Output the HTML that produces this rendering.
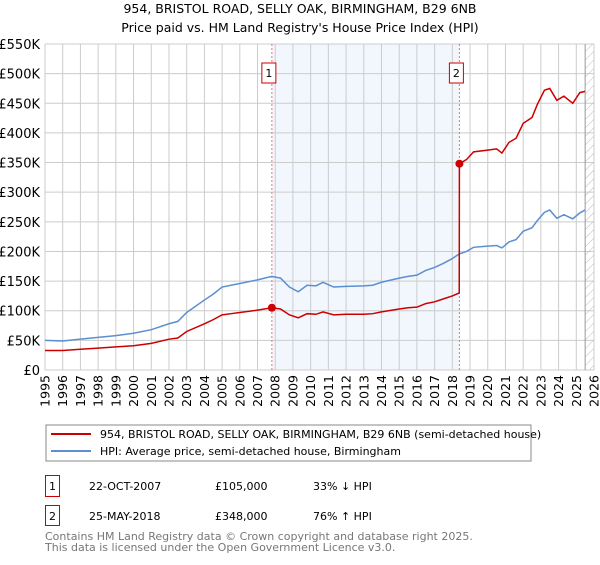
<!DOCTYPE html>
<html><head><meta charset="utf-8"><style>
body{margin:0;background:#fff;font-family:"Liberation Sans","DejaVu Sans",sans-serif;}
svg text{font-family:"DejaVu Sans","Liberation Sans",sans-serif;}
</style></head><body>
<svg id="c" width="600" height="560" viewBox="0 0 600 560" xmlns="http://www.w3.org/2000/svg">
<defs><pattern id="hatch" width="6" height="6" patternUnits="userSpaceOnUse" patternTransform="rotate(45)"><line x1="0" y1="0" x2="0" y2="6" stroke="#bbb" stroke-width="1"/></pattern></defs>
<text x="300" y="13" text-anchor="middle" font-size="12.5" fill="#000">954, BRISTOL ROAD, SELLY OAK, BIRMINGHAM, B29 6NB</text>
<text x="300" y="32" text-anchor="middle" font-size="12.5" fill="#000">Price paid vs. HM Land Registry's House Price Index (HPI)</text>
<g id="grid"></g><g id="marks"></g><g id="axes"></g>
<g>
<rect x="46" y="425" width="485" height="36" fill="#fff" stroke="#888" stroke-width="1"/>
<line x1="51" y1="434" x2="91" y2="434" stroke="#cc0000" stroke-width="2"/>
<text x="100" y="438" font-size="11">954, BRISTOL ROAD, SELLY OAK, BIRMINGHAM, B29 6NB (semi-detached house)</text>
<line x1="51" y1="451" x2="91" y2="451" stroke="#5b8fd0" stroke-width="2"/>
<text x="100" y="455" font-size="11">HPI: Average price, semi-detached house, Birmingham</text>
</g>
<g font-size="11">
<rect x="45.5" y="475.5" width="14" height="21" fill="#fff" stroke="#cc0000"/>
<text x="52.5" y="490" text-anchor="middle">1</text>
<text x="89" y="490">22-OCT-2007</text>
<text x="215" y="490">£105,000</text>
<text x="313" y="490">33% ↓ HPI</text>
<rect x="45.5" y="505.5" width="14" height="20" fill="#fff" stroke="#cc0000"/>
<text x="52.5" y="520" text-anchor="middle">2</text>
<text x="89" y="520">25-MAY-2018</text>
<text x="215" y="520">£348,000</text>
<text x="313" y="520">76% ↑ HPI</text>
</g>
<text x="45" y="540" font-size="11" fill="#777">Contains HM Land Registry data © Crown copyright and database right 2025.</text>
<text x="45" y="551" font-size="11" fill="#777">This data is licensed under the Open Government Licence v3.0.</text>
</svg>
<script>
const years=[1995,1996,1997,1998,1999,2000,2001,2002,2002.5,2003,2004,2004.5,2005,2005.5,2006,2007,2007.8,2008.3,2008.8,2009.3,2009.8,2010.3,2010.7,2011.3,2012,2013,2013.5,2014,2015,2015.5,2016,2016.5,2017,2017.5,2018,2018.39,2018.4,2018.8,2019.2,2020,2020.5,2020.8,2021.2,2021.6,2022,2022.5,2022.8,2023.2,2023.5,2023.9,2024.3,2024.8,2025.2,2025.5];
const hpi=[50,49,52,55,58,62,68,78,82,97,118,128,140,143,146,152,158,155,140,132,143,142,148,140,141,142,143,148,155,158,160,168,173,180,188,196,196,200,207,209,210,206,216,220,234,240,252,266,270,256,262,255,265,270];
const price=[33,33,35,37,39,41,45,52,54,65,78,85,93,95,97,101,105,103,93,88,95,94,98,93,94,94,95,98,103,105,106,112,115,120,125,130,348,355,368,371,373,366,384,391,416,426,448,472,475,455,462,450,468,470];
const yTicks=[0,50,100,150,200,250,300,350,400,450,500,550];
const yTickLabels=["£0","£50K","£100K","£150K","£200K","£250K","£300K","£350K","£400K","£450K","£500K","£550K"];
const xTicks=[1995,1996,1997,1998,1999,2000,2001,2002,2003,2004,2005,2006,2007,2008,2009,2010,2011,2012,2013,2014,2015,2016,2017,2018,2019,2020,2021,2022,2023,2024,2025,2026];
const saleYears=[2007.81,2018.4];
const salePrices=[105,348];
const saleLabels=["1","2"];
const X0=45,X1=594,Y0=370,Y1=44;
const x=v=>X0+(v-1995)/(2026-1995)*(X1-X0);
const y=v=>Y0-v/550*(Y0-Y1);
const NS="http://www.w3.org/2000/svg";
function mk(t,a,p){const e=document.createElementNS(NS,t);for(const k in a)e.setAttribute(k,a[k]);p.appendChild(e);return e;}
const grid=document.getElementById('grid'),marks=document.getElementById('marks'),axes=document.getElementById('axes');
let sh=mk('rect',{x:x(saleYears[0]),y:Y1,width:x(saleYears[1])-x(saleYears[0]),height:Y0-Y1,fill:'#f2f6fd'},grid);


yTicks.forEach((t,i)=>{
 const l=mk('line',{x1:X0,x2:X1,y1:y(t),y2:y(t),stroke:'#ccc','stroke-width':1},grid);
 
 
 const tx=mk('text',{x:X0-5,y:y(t)+5,'text-anchor':'end','font-size':13,fill:'#000'},axes);
 tx.textContent=yTickLabels[i];
 
 
});
xTicks.forEach(t=>{
 const l=mk('line',{x1:x(t),x2:x(t),y1:Y1,y2:Y0,stroke:'#ccc','stroke-width':1},grid);
 
 
 const tx=mk('text',{x:0,y:0,'text-anchor':'end','font-size':12.5,fill:'#000',transform:`translate(${x(t)+4.5},375) rotate(-90)`},axes);
 tx.textContent=t;
 
 
});
const ht=mk('rect',{x:x(2025.5),y:Y1,width:X1-x(2025.5),height:Y0-Y1,fill:'url(#hatch)'},grid);


const hl=mk('line',{x1:x(2025.5),x2:x(2025.5),y1:Y1,y2:Y0,stroke:'#999','stroke-width':1},grid);


saleYears.forEach((s,i)=>{
 const l=mk('line',{x1:x(s),x2:x(s),y1:Y1,y2:Y0,stroke:'#f07070','stroke-width':1,'stroke-dasharray':'2,2'},grid);
 
 
 const b=mk('rect',{x:x(s)-10,y:63,width:14,height:20,fill:'#fff',stroke:'#cc0000'},marks);
 
 
 const t=mk('text',{x:x(s)-3,y:77,'text-anchor':'middle','font-size':11},marks);
 t.textContent=saleLabels[i];
 
 
});
const ph=mk('polyline',{points:years.map((v,i)=>x(v)+','+y(hpi[i])).join(' '),fill:'none',stroke:'#5b8fd0','stroke-width':1.5},marks);


const pp=mk('polyline',{points:years.map((v,i)=>x(v)+','+y(price[i])).join(' '),fill:'none',stroke:'#cc0000','stroke-width':1.5},marks);


saleYears.forEach((s,i)=>{
 const c=mk('circle',{cx:x(s),cy:y(salePrices[i]),r:4,fill:'#cc0000'},marks);
 
 
});
</script>
</body></html>
